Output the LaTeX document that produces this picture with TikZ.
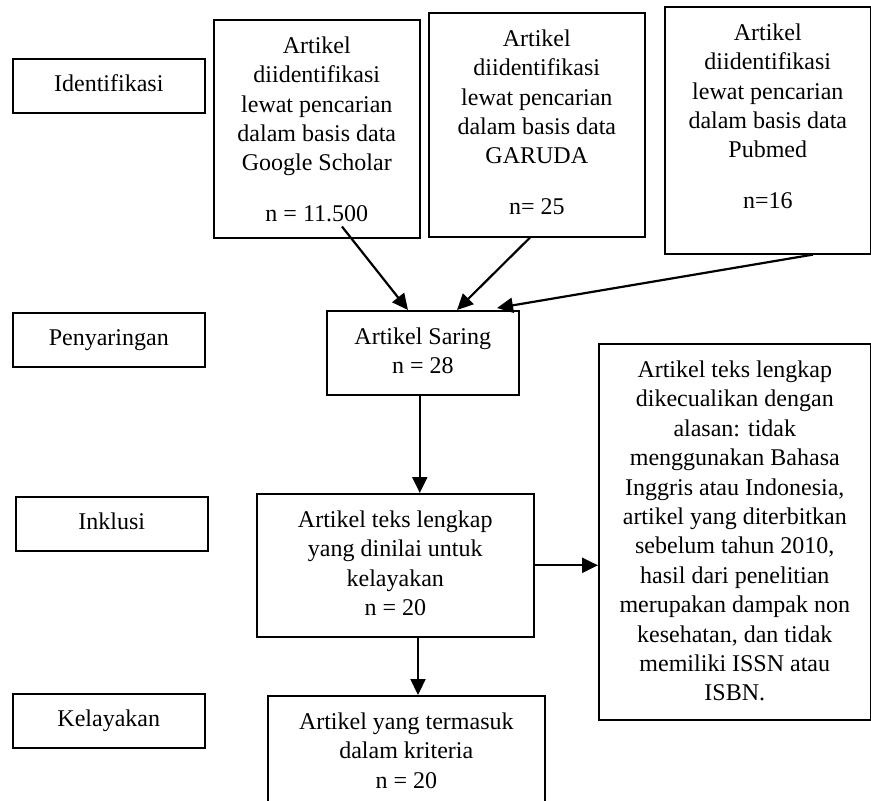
\documentclass[tikz,border=0pt]{standalone}
\usepackage{fontspec}
\setmainfont{Liberation Serif}
\usetikzlibrary{arrows.meta,positioning}
\tikzset{
  stage/.style={
    % The shape:
    rectangle,
    % The size:
    minimum width=96pt,
    minimum height=27pt,
    % The border:
    draw=black,
    line width=0.8pt,
    anchor=north west,
    text height=1.5ex,text depth=.25ex},
  record/.style={
    % The shape:
    rectangle,
    inner sep=0pt,
    % The border:
    draw=black,line width=0.8pt,
    anchor=north west},
  flow/.style={-{Triangle[length=8pt,width=7.5pt]},line width=1.1pt}
}
% text of a record box: width, height, lines
\newcommand{\recordtext}[3]{\parbox[c][#2][t]{#1}{\centering\rule{0pt}{16.8pt}#3}}

\begin{document}
\begin{tikzpicture}[x=0.5pt,y=-0.5pt,font=\fontsize{12pt}{14.7pt}\selectfont]
  \useasboundingbox (0,0) rectangle (871,801);

  % stages
  \node (identifikasi) [stage] at (12,58)  {Identifikasi};
  \node (penyaringan)  [stage] at (12,312) {Penyaringan};
  \node (inklusi)      [stage] at (15,496) {Inklusi};
  \node (kelayakan)    [stage] at (12,693) {Kelayakan};

  % sources
  \node (scholar) [record] at (213,19) {\recordtext{103pt}{109pt}{Artikel\\
    diidentifikasi\\ lewat pencarian\\ dalam basis data\\ Google Scholar\\[10.8pt] n = 11.500}};
  \node (garuda) [record] at (428,12) {\recordtext{108pt}{112pt}{Artikel\\
    diidentifikasi\\ lewat pencarian\\ dalam basis data\\ GARUDA\\[10.8pt] n= 25}};
  \node (pubmed) [record] at (664,6) {\recordtext{103pt}{123.5pt}{Artikel\\
    diidentifikasi\\ lewat pencarian\\ dalam basis data\\ Pubmed\\[10.8pt] n=16}};

  % flow
  \node (saring) [record] at (326,310) {\recordtext{96pt}{42pt}{Artikel Saring\\ n = 28}};
  \node (lengkap) [record] at (256,493) {\recordtext{138.5pt}{71.5pt}{Artikel teks lengkap\\
    yang dinilai untuk\\ kelayakan\\ n = 20}};
  \node (kecuali) [record] at (598,343) {\recordtext{136pt}{188pt}{Artikel teks lengkap\\
    dikecualikan dengan\\ alasan: tidak\\ menggunakan Bahasa\\ Inggris atau Indonesia,\\
    artikel yang diterbitkan\\ sebelum tahun 2010,\\ hasil dari penelitian\\
    merupakan dampak non\\ kesehatan, dan tidak\\ memiliki ISSN atau\\ ISBN.}};
  \node (kriteria) [record] at (267,695) {\recordtext{138.5pt}{65pt}{Artikel yang termasuk\\
    dalam kriteria\\ n = 20}};

  \draw[flow] ([shift={(129,-12)}]scholar.south west) -- ([shift={(82,0)}]saring.north west);
  \draw[flow] ([shift={(102,0)}]garuda.south west) -- ([shift={(131,0)}]saring.north west);
  \draw[flow] ([shift={(149,0)}]pubmed.south west) -- ([shift={(171,-2)}]saring.north west);
  \draw[flow] ([xshift=-1.5pt]saring.south) -- ([xshift=-1.5pt]saring.south |- lengkap.north);
  \draw[flow] ([shift={(162,0)}]lengkap.south west) -- ([shift={(162,0)}]lengkap.south west |- kriteria.north);
  \draw[flow] (lengkap.east) -- (lengkap.east -| kecuali.west);
\end{tikzpicture}
\end{document}
